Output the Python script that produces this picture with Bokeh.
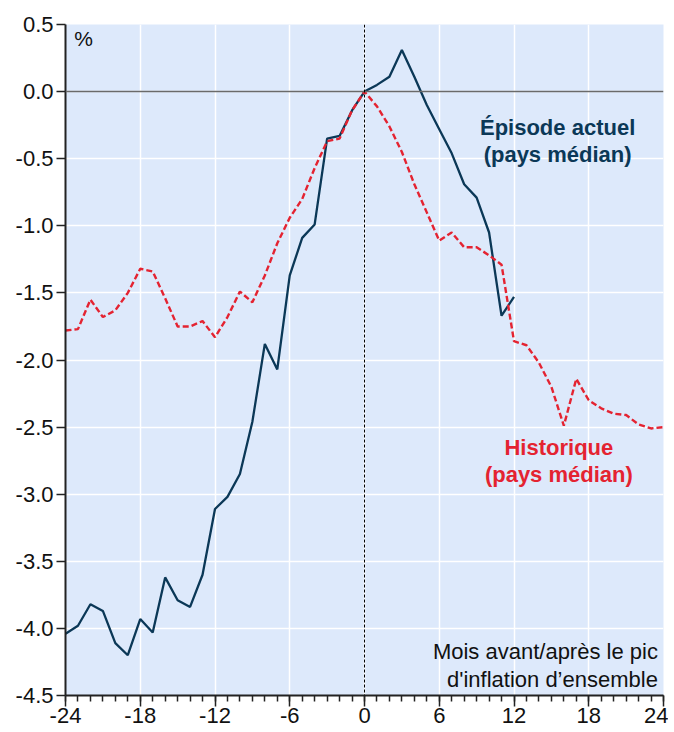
from bokeh.plotting import figure
from bokeh.models import FixedTicker, Span, Label
from bokeh.embed import file_html
from bokeh.resources import INLINE

# Data
months_current = list(range(-24, 13))
current = [-4.04, -3.98, -3.82, -3.87, -4.11, -4.20, -3.93, -4.03, -3.62, -3.79,
           -3.84, -3.60, -3.11, -3.02, -2.85, -2.46, -1.88, -2.07, -1.37, -1.09,
           -0.99, -0.35, -0.33, -0.14, 0.00, 0.05, 0.11, 0.31, 0.11, -0.10,
           -0.28, -0.46, -0.69, -0.79, -1.05, -1.67, -1.53]
months_hist = list(range(-24, 25))
historical = [-1.78, -1.77, -1.55, -1.68, -1.63, -1.50, -1.32, -1.34, -1.54, -1.75,
              -1.75, -1.71, -1.83, -1.68, -1.49, -1.57, -1.37, -1.13, -0.94, -0.80,
              -0.57, -0.37, -0.35, -0.14, 0.00, -0.11, -0.26, -0.45, -0.69, -0.90,
              -1.11, -1.05, -1.16, -1.16, -1.22, -1.29, -1.86, -1.89, -2.02, -2.20,
              -2.49, -2.14, -2.30, -2.36, -2.40, -2.41, -2.48, -2.51, -2.50]
x_ticks = [-24, -18, -12, -6, 0, 6, 12, 18, 24]
y_ticks = [0.5, 0.0, -0.5, -1.0, -1.5, -2.0, -2.5, -3.0, -3.5, -4.0, -4.5]

FONT = "Liberation Sans"
BLUE = "#0b3857"
RED = "#e42331"
FS = "22px"

p = figure(width=668, height=732, output_backend="svg", toolbar_location=None,
           x_range=(-24, 24), y_range=(-4.5, 0.5),
           min_border_left=65, min_border_right=5, min_border_top=24, min_border_bottom=37)
p.background_fill_color = "#dde9fb"
p.border_fill_color = "white"
p.outline_line_color = None

# grid
p.xgrid.ticker = FixedTicker(ticks=x_ticks)
p.ygrid.ticker = FixedTicker(ticks=y_ticks)
p.grid.grid_line_color = "white"
p.grid.grid_line_width = 1.5

# axes
p.xaxis.ticker = FixedTicker(ticks=x_ticks, minor_ticks=list(range(-24, 25)))
p.yaxis.ticker = FixedTicker(ticks=y_ticks)
p.yaxis.major_label_overrides = {v: f"{v:.1f}" for v in y_ticks}
p.xaxis.major_label_overrides = {v: str(v) for v in x_ticks}
for ax in (p.xaxis, p.yaxis):
    ax.axis_line_color = "#222222"
    ax.axis_line_width = 2
    ax.major_tick_line_color = "#222222"
    ax.major_tick_line_width = 1.5
    ax.minor_tick_line_color = "#222222"
    ax.minor_tick_line_width = 1.5
    ax.major_tick_in = 0
    ax.minor_tick_in = 0
    ax.major_label_text_font = FONT
    ax.major_label_text_font_size = FS
    ax.major_label_text_color = "#111111"
p.xaxis.major_tick_out = 11
p.xaxis.minor_tick_out = 6
p.xaxis.major_label_standoff = 1
p.yaxis.major_tick_out = 9
p.yaxis.minor_tick_out = 0
p.yaxis.major_label_standoff = 3

# reference lines
p.add_layout(Span(location=0, dimension="width", line_color="#6a6a6a", line_width=1.5))
p.add_layout(Span(location=0, dimension="height", line_color="black", line_width=1,
                  line_dash="3 2"))

p.line(months_current, current, line_color=BLUE, line_width=2.3)
p.line(months_hist, historical, line_color=RED, line_width=2.4, line_dash="6 3")

# annotations
p.add_layout(Label(x=-23.3, y=0.48, text="%", text_font=FONT, text_font_size="21px",
                   text_color="#111111", text_baseline="top"))
p.add_layout(Label(x=15.5, y=-0.265, text="Épisode actuel", text_font=FONT,
                   text_font_size="22px", text_font_style="bold", text_color=BLUE,
                   text_align="center", text_baseline="middle"))
p.add_layout(Label(x=15.5, y=-0.465, text="(pays médian)", text_font=FONT,
                   text_font_size="22px", text_font_style="bold", text_color=BLUE,
                   text_align="center", text_baseline="middle"))
p.add_layout(Label(x=15.6, y=-2.65, text="Historique", text_font=FONT,
                   text_font_size="22px", text_font_style="bold", text_color=RED,
                   text_align="center", text_baseline="middle"))
p.add_layout(Label(x=15.6, y=-2.85, text="(pays médian)", text_font=FONT,
                   text_font_size="22px", text_font_style="bold", text_color=RED,
                   text_align="center", text_baseline="middle"))
p.add_layout(Label(x=23.55, y=-4.17, text="Mois avant/après le pic", text_font=FONT,
                   text_font_size=FS, text_color="#111111",
                   text_align="right", text_baseline="middle"))
p.add_layout(Label(x=23.55, y=-4.38, text="d'inflation d’ensemble", text_font=FONT,
                   text_font_size=FS, text_color="#111111",
                   text_align="right", text_baseline="middle"))

open("out.html", "w").write(file_html(p, INLINE))
